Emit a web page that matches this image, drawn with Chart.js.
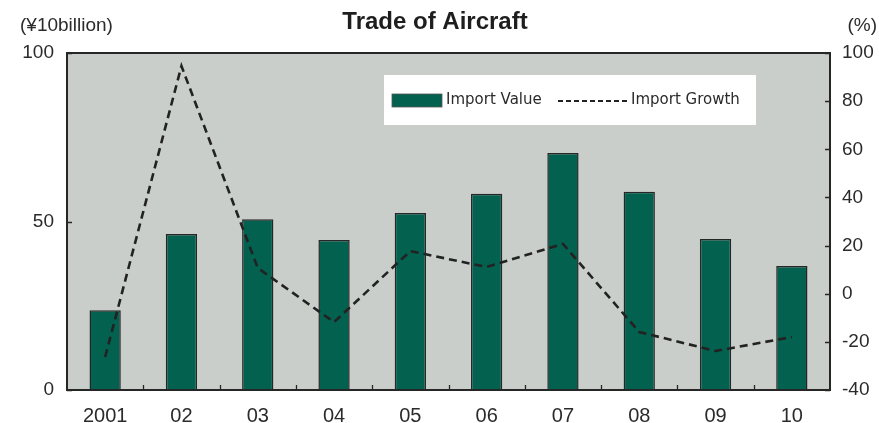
<!DOCTYPE html>
<html>
<head>
<meta charset="utf-8">
<script src="https://cdn.jsdelivr.net/npm/chart.js@4"></script>
<style>
  html, body { margin: 0; padding: 0; background: #fff; }
  #wrap { width: 879px; height: 423px; position: relative; }
</style>
</head>
<body>
<div id="wrap"><canvas id="myChart"></canvas></div>
<script>
// data
const years = ['2001', '02', '03', '04', '05', '06', '07', '08', '09', '10'];
const importValue = [23.7, 46.3, 50.7, 44.5, 52.5, 58.2, 70.3, 58.8, 44.8, 36.8];
const importGrowth = [-26.3, 94.6, 10.7, -11.8, 17.7, 11.1, 20.7, -15.9, -23.8, -18.0];
const leftTicks = [0, 50, 100];
const rightTicks = [-40, -20, 0, 20, 40, 60, 80, 100];

const FONT = '"Liberation Sans", "Noto Sans", sans-serif';
const LEGEND_FONT = '"DejaVu Sans", sans-serif';
const TEXT = '#2b2b2b';
const BAR = '#03614f';
const PLOT_BG = '#cacecb';
const EDGE = '#262626';

// plot background, frame, inward ticks, legend box and titles
const decor = {
    id: 'decor',
    beforeDraw(chart) {
        const c = chart.ctx, a = chart.chartArea;
        c.save();
        c.fillStyle = PLOT_BG;
        c.fillRect(a.left, a.top, a.right - a.left, a.bottom - a.top);
        c.restore();
    },
    afterDraw(chart) {
        const c = chart.ctx, a = chart.chartArea;
        const x = chart.scales.x, y = chart.scales.y, y1 = chart.scales.y1;
        const barSet = chart.data.datasets.find(d => d.type === 'bar');
        const lineSet = chart.data.datasets.find(d => d.type === 'line');
        c.save();
        c.strokeStyle = EDGE;
        c.lineWidth = 2;
        c.strokeRect(a.left, a.top, a.right - a.left, a.bottom - a.top);

        c.lineWidth = 1.3;
        c.beginPath();
        for (let i = 1; i < years.length; i++) {
            const px = Math.round((x.getPixelForValue(i - 1) + x.getPixelForValue(i)) / 2) + 0.5;
            c.moveTo(px, a.bottom);
            c.lineTo(px, a.bottom - 5);
        }
        leftTicks.forEach(v => {
            const py = Math.round(y.getPixelForValue(v)) + 0.5;
            c.moveTo(a.left, py);
            c.lineTo(a.left + 5, py);
        });
        rightTicks.forEach(v => {
            const py = Math.round(y1.getPixelForValue(v)) + 0.5;
            c.moveTo(a.right, py);
            c.lineTo(a.right - 5, py);
        });
        c.stroke();

        // legend
        const lx = 384, ly = 75, lw = 372, lh = 50;
        c.fillStyle = '#ffffff';
        c.fillRect(lx, ly, lw, lh);
        const cy = ly + lh / 2;
        c.fillStyle = barSet.backgroundColor;
        c.fillRect(lx + 8, cy - 6, 50, 13);
        c.strokeStyle = '#555';
        c.lineWidth = 0.8;
        c.strokeRect(lx + 8, cy - 6, 50, 13);
        c.font = '15px ' + LEGEND_FONT;
        c.fillStyle = TEXT;
        c.textBaseline = 'middle';
        c.textAlign = 'left';
        c.fillText(barSet.label, lx + 62, cy);
        c.strokeStyle = '#222';
        c.lineWidth = 2.2;
        c.setLineDash([5, 3]);
        c.beginPath();
        c.moveTo(lx + 174, cy + 1);
        c.lineTo(lx + 245, cy + 1);
        c.stroke();
        c.setLineDash([]);
        c.fillText(lineSet.label, lx + 247, cy);

        // titles
        c.font = 'bold 24px ' + FONT;
        c.textAlign = 'center';
        c.fillStyle = '#1e1e1e';
        c.fillText('Trade of Aircraft', 435, 22);
        c.font = '19px ' + FONT;
        c.fillStyle = TEXT;
        c.textAlign = 'left';
        c.fillText('(¥10billion)', 20, 26);
        c.textAlign = 'right';
        c.fillText('(%)', 877, 26);
        c.restore();
    }
};

const ctx = document.getElementById('myChart').getContext('2d');
const myChart = new Chart(ctx, {
    data: {
        labels: years,
        datasets: [
            {
                type: 'line',
                label: 'Import Growth',
                data: importGrowth,
                yAxisID: 'y1',
                borderColor: '#222222',
                borderWidth: 2.6,
                borderDash: [8, 5],
                pointRadius: 0,
                tension: 0,
                fill: false,
                order: 0
            },
            {
                type: 'bar',
                label: 'Import Value',
                data: importValue,
                yAxisID: 'y',
                backgroundColor: BAR,
                borderColor: EDGE,
                borderWidth: 1.5,
                categoryPercentage: 0.41,
                barPercentage: 1,
                order: 1
            }
        ]
    },
    options: {
        responsive: true,
        maintainAspectRatio: false,
        animation: false,
        layout: { padding: { top: 53, left: 0, right: 0, bottom: 0 } },
        plugins: {
            legend: { display: false },
            title: { display: false },
            tooltip: { enabled: false }
        },
        scales: {
            x: {
                offset: true,
                grid: { display: false, drawTicks: false },
                border: { display: false },
                ticks: { color: TEXT, font: { family: FONT, size: 20 }, padding: 14, maxRotation: 0 },
                afterFit(scale) { scale.height = 33; }
            },
            y: {
                position: 'left',
                min: 0,
                max: 100,
                afterBuildTicks(scale) { scale.ticks = leftTicks.map(v => ({ value: v })); },
                grid: { display: false, drawTicks: false },
                border: { display: false },
                ticks: { color: TEXT, font: { family: FONT, size: 19 }, padding: 13 },
                afterFit(scale) { scale.width = 67; }
            },
            y1: {
                position: 'right',
                min: -40,
                max: 100,
                afterBuildTicks(scale) { scale.ticks = rightTicks.map(v => ({ value: v })); },
                grid: { display: false, drawTicks: false },
                border: { display: false },
                ticks: { color: TEXT, font: { family: FONT, size: 19 }, padding: 12 },
                afterFit(scale) { scale.width = 49; }
            }
        }
    },
    plugins: [decor]
});
</script>
</body>
</html>
